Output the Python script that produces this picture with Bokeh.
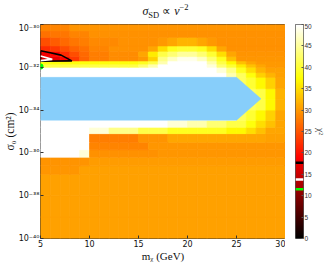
import numpy as np
from bokeh.plotting import figure
from bokeh.models import LinearColorMapper, FixedTicker, ColumnDataSource, Div
from bokeh.layouts import row, column
from bokeh.embed import file_html
from bokeh.resources import INLINE

# ---------------- data ----------------
mass_edges = [5, 6, 7, 8, 9, 10, 11, 12, 13, 14, 15, 16, 17, 18, 19, 20,
              21, 22, 23, 24, 25, 26, 27, 28, 29, 30]
logsigma_edges = [-40, -39, -38, -37, -36.6, -36.2, -35.85, -35.5, -35.1, -34.8,
                  -34.47, -34.0, -33.5, -33.0, -32.47, -32.25, -32.0, -31.85,
                  -31.7, -31.5, -31.25, -31.0, -30.6, -30.3, -30.0]

# chi^2 per cell, rows listed from top (-30) to bottom (-40), columns 5..30 GeV
chi2_rows_top_down = [
    [28.5, 28.5, 28.5, 29.6, 29.6, 29.6, 29.6, 29.6, 29.6, 29.6, 29.6, 29.6, 29.6, 29.6, 29.6, 29.6, 29.6, 29.6, 29.6, 29.6, 29.6, 29.6, 29.6, 29.6, 29.6],
    [27.0, 27.5, 27.5, 28.5, 28.5, 29.4, 29.4, 29.4, 29.4, 29.4, 29.4, 29.4, 29.4, 29.4, 29.4, 29.4, 29.4, 29.4, 29.4, 29.4, 29.4, 29.4, 29.4, 29.4, 29.4],
    [24.5, 25.5, 26.5, 27.5, 28.0, 28.8, 28.8, 28.8, 29.4, 29.4, 29.4, 29.4, 30.0, 31.0, 32.0, 32.0, 31.0, 30.0, 29.4, 29.4, 29.4, 29.4, 29.4, 29.4, 29.4],
    [22.0, 23.0, 24.5, 26.0, 27.0, 28.5, 28.5, 29.3, 29.3, 29.3, 29.3, 31.0, 35.0, 39.0, 40.0, 40.0, 39.0, 35.0, 31.0, 29.4, 29.4, 29.4, 29.4, 29.4, 29.4],
    [18.0, 19.0, 22.0, 24.5, 26.5, 28.0, 28.0, 29.0, 29.0, 29.0, 31.0, 36.0, 41.0, 43.0, 45.0, 45.0, 43.0, 40.0, 35.0, 31.0, 29.6, 29.6, 29.6, 29.6, 29.6],
    [16.0, 17.0, 19.0, 23.0, 26.0, 28.0, 28.0, 29.0, 29.0, 29.0, 30.0, 34.0, 44.0, 47.0, 49.0, 49.0, 47.0, 43.0, 39.0, 33.0, 29.8, 29.8, 29.8, 29.8, 29.8],
    [38.0, 38.0, 38.0, 38.0, 38.0, 38.0, 38.0, 38.0, 38.0, 38.0, 39.0, 41.0, 46.0, 50.0, 50.0, 50.0, 50.0, 46.0, 41.0, 37.0, 33.0, 31.0, 30.0, 30.0, 30.0],
    [41.0, 41.0, 41.0, 41.0, 41.0, 41.0, 41.0, 41.0, 41.0, 41.0, 43.0, 46.0, 50.0, 50.0, 50.0, 50.0, 50.0, 48.0, 43.0, 40.0, 36.0, 33.0, 31.0, 30.0, 30.0],
    [50.0, 50.0, 50.0, 50.0, 50.0, 50.0, 50.0, 50.0, 50.0, 50.0, 50.0, 50.0, 50.0, 50.0, 50.0, 50.0, 50.0, 50.0, 48.0, 44.0, 39.0, 35.0, 32.0, 30.5, 30.5],
    [50.0, 50.0, 50.0, 50.0, 50.0, 50.0, 50.0, 50.0, 50.0, 50.0, 50.0, 50.0, 50.0, 50.0, 50.0, 50.0, 50.0, 50.0, 50.0, 46.0, 42.0, 38.0, 34.0, 32.0, 30.5],
    [50.0, 50.0, 50.0, 50.0, 50.0, 50.0, 50.0, 50.0, 50.0, 50.0, 50.0, 50.0, 50.0, 50.0, 50.0, 50.0, 50.0, 50.0, 50.0, 50.0, 42.0, 40.0, 37.0, 34.0, 31.0],
    [50.0, 50.0, 50.0, 50.0, 50.0, 50.0, 50.0, 50.0, 50.0, 50.0, 50.0, 50.0, 50.0, 50.0, 50.0, 50.0, 50.0, 50.0, 50.0, 50.0, 42.0, 42.0, 41.0, 37.0, 32.0],
    [50.0, 50.0, 50.0, 50.0, 50.0, 50.0, 50.0, 50.0, 50.0, 50.0, 50.0, 50.0, 50.0, 50.0, 50.0, 50.0, 50.0, 50.0, 50.0, 50.0, 42.0, 42.0, 41.0, 37.0, 32.0],
    [50.0, 50.0, 50.0, 50.0, 50.0, 50.0, 50.0, 50.0, 50.0, 50.0, 50.0, 50.0, 50.0, 50.0, 50.0, 50.0, 50.0, 50.0, 50.0, 50.0, 42.0, 40.0, 37.0, 34.0, 31.0],
    [50.0, 50.0, 50.0, 50.0, 50.0, 50.0, 50.0, 50.0, 50.0, 50.0, 50.0, 50.0, 50.0, 48.0, 48.0, 46.0, 46.0, 43.0, 43.0, 41.0, 41.0, 38.0, 35.0, 33.0, 31.0],
    [50.0, 50.0, 50.0, 50.0, 50.0, 48.0, 48.0, 44.0, 44.0, 44.0, 41.0, 41.0, 41.0, 39.0, 39.0, 39.0, 39.0, 39.0, 39.0, 37.0, 37.0, 35.0, 33.0, 31.0, 31.0],
    [50.0, 50.0, 50.0, 50.0, 50.0, 28.0, 28.0, 28.0, 28.0, 28.0, 29.5, 29.5, 29.5, 31.0, 31.0, 31.0, 31.0, 31.0, 31.0, 31.0, 31.0, 31.0, 31.0, 30.5, 30.5],
    [50.0, 50.0, 50.0, 50.0, 50.0, 28.5, 28.5, 28.5, 28.5, 28.5, 28.5, 29.8, 29.8, 29.8, 29.8, 29.8, 29.8, 29.8, 29.8, 29.8, 29.8, 29.8, 29.8, 29.8, 29.8],
    [50.0, 50.0, 50.0, 50.0, 48.0, 29.3, 29.3, 29.3, 29.3, 29.3, 29.3, 29.3, 29.8, 29.8, 29.8, 29.8, 29.8, 29.8, 29.8, 29.8, 29.8, 29.8, 29.8, 29.8, 29.8],
    [29.6, 29.6, 29.6, 29.6, 29.6, 30.2, 30.2, 30.2, 30.2, 30.2, 30.2, 30.2, 30.2, 30.2, 30.2, 30.2, 30.2, 30.2, 30.2, 30.2, 30.2, 30.2, 30.2, 30.2, 30.2],
    [29.8, 29.8, 29.8, 29.8, 30.5, 30.5, 30.5, 30.5, 30.5, 30.5, 30.5, 30.5, 30.5, 30.5, 30.5, 30.5, 30.5, 30.5, 30.5, 30.5, 30.5, 30.5, 30.5, 30.5, 30.5],
    [30.5, 30.5, 30.5, 30.5, 30.5, 30.5, 30.5, 30.5, 30.5, 30.5, 30.5, 30.5, 30.5, 30.5, 30.5, 30.5, 30.5, 30.5, 30.5, 30.5, 30.5, 30.5, 30.5, 30.5, 30.5],
    [30.5, 30.5, 30.5, 30.5, 30.5, 30.5, 30.5, 30.5, 30.5, 30.5, 30.5, 30.5, 30.5, 30.5, 30.5, 30.5, 30.5, 30.5, 30.5, 30.5, 30.5, 30.5, 30.5, 30.5, 30.5],
    [30.5, 30.5, 30.5, 30.5, 30.5, 30.5, 30.5, 30.5, 30.5, 30.5, 30.5, 30.5, 30.5, 30.5, 30.5, 30.5, 30.5, 30.5, 30.5, 30.5, 30.5, 30.5, 30.5, 30.5, 30.5],
]

# excluded (light-blue) region
excl_mass = [5, 25, 27.5, 25, 5]
excl_logsigma = [-32.47, -32.47, -33.47, -34.47, -34.47]

# chi^2 contours
contour_black_mass = [5, 6.0, 7.1, 8.2, 5, 5]
contour_black_logsigma = [-31.23, -31.32, -31.43, -31.70, -31.72, -31.23]
contour_white_mass = [5, 6.2, 5]
contour_white_logsigma = [-31.47, -31.63, -31.69]

# best-fit point
best_mass = [5.0]
best_logsigma = [-31.96]

x_ticks = [5, 10, 15, 20, 25, 30]
y_ticks = [-40, -38, -36, -34, -32, -30]
y_tick_labels = ["10⁻⁴⁰", "10⁻³⁸", "10⁻³⁶", "10⁻³⁴", "10⁻³²", "10⁻³⁰"]
cbar_ticks = [0, 5, 10, 15, 20, 25, 30, 35, 40, 45, 50]
cbar_marks = [17.7, 13.8, 11.5]
cbar_mark_colors = ["#000000", "#ffffff", "#00ff00"]

title_html = ("<i>σ</i><span style='font-size:8.5px;position:relative;top:2.5px'>SD</span>"
              " ∝ <i>v</i><span style='font-size:8.5px;position:relative;top:-5px'>−2</span>")
x_label = "mᵪ (GeV)"
y_label = "σ₀ (cm²)"
cbar_label = "χ²"

# ---------------- colour map (hot) ----------------
t = np.linspace(0, 1, 256)
rr = np.clip(t / 0.375, 0, 1)
gg = np.clip((t - 0.375) / 0.375, 0, 1)
bb = np.clip((t - 0.75) / 0.25, 0, 1)
hot = ["#%02x%02x%02x" % (int(round(255 * a)), int(round(255 * b)), int(round(255 * c)))
       for a, b, c in zip(rr, gg, bb)]
mapper = LinearColorMapper(palette=hot, low=0, high=50, high_color="#ffffff")

# ---------------- cells ----------------
rows_bottom_up = chi2_rows_top_down[::-1]
L, R, B, T, V = [], [], [], [], []
for j in range(len(logsigma_edges) - 1):
    for i in range(len(mass_edges) - 1):
        L.append(mass_edges[i]); R.append(mass_edges[i + 1])
        B.append(logsigma_edges[j]); T.append(logsigma_edges[j + 1])
        V.append(rows_bottom_up[j][i])
cells = ColumnDataSource(dict(left=L, right=R, bottom=B, top=T, chi2=V))

serif = "Liberation Serif"
tick_font = "DejaVu Sans"

p = figure(width=285, height=241, x_range=(5, 30), y_range=(-40, -30),
           output_backend="svg", toolbar_location=None, sizing_mode="fixed",
           min_border_left=34, min_border_right=0, min_border_top=1, min_border_bottom=23)
p.grid.visible = False
p.outline_line_color = "#333333"
p.outline_line_width = 1

p.quad(left="left", right="right", bottom="bottom", top="top", source=cells,
       fill_color={"field": "chi2", "transform": mapper},
       line_color={"field": "chi2", "transform": mapper}, line_width=0.7)
p.patch(excl_mass, excl_logsigma, fill_color="#87cefa", line_color="#87cefa", line_width=0.5)
p.line(contour_black_mass, contour_black_logsigma, line_color="black", line_width=1.6)
p.line(contour_white_mass, contour_white_logsigma, line_color="white", line_width=1.6)
p.scatter(best_mass, best_logsigma, size=6, fill_color="#00ff00", line_color=None)

for ax in (p.xaxis[0], p.yaxis[0]):
    ax.major_tick_in = 3
    ax.major_tick_out = 0
    ax.minor_tick_line_color = None
    ax.axis_line_color = None
    ax.major_tick_line_color = "#333333"
    ax.major_label_text_font = tick_font
    ax.major_label_text_font_size = "8px"
    ax.major_label_text_color = "#111111"
    ax.major_label_standoff = 1
    ax.axis_label_text_font = serif
    ax.axis_label_text_font_size = "11px"
    ax.axis_label_text_font_style = "normal"
    ax.axis_label_text_color = "#111111"
    ax.axis_label_standoff = 0
p.yaxis[0].axis_label_text_font_size = "11.5px"
p.xaxis[0].ticker = FixedTicker(ticks=x_ticks)
p.yaxis[0].ticker = FixedTicker(ticks=y_ticks)
p.yaxis[0].major_label_overrides = {k: s for k, s in zip(y_ticks, y_tick_labels)}
p.xaxis[0].axis_label = x_label
p.yaxis[0].axis_label = y_label

# ---------------- colour bar ----------------
cb = figure(width=42, height=241, x_range=(0, 1), y_range=(0, 50),
            output_backend="svg", toolbar_location=None, x_axis_location=None,
            y_axis_location="right", sizing_mode="fixed",
            min_border_left=10, min_border_right=18, min_border_top=1, min_border_bottom=23)
cb.grid.visible = False
cb.outline_line_color = "#555555"
cb.image(image=[np.linspace(0, 50, 256).reshape(256, 1)], x=0, y=0, dw=1, dh=50,
         color_mapper=mapper)
cb.segment(x0=[0] * len(cbar_marks), x1=[1] * len(cbar_marks), y0=cbar_marks,
           y1=cbar_marks, line_color=cbar_mark_colors, line_width=2.5)
cy = cb.yaxis[0]
cy.ticker = FixedTicker(ticks=cbar_ticks)
cy.major_tick_in = 2
cy.major_tick_out = 0
cy.minor_tick_line_color = None
cy.axis_line_color = None
cy.major_tick_line_color = "#555555"
cy.major_label_text_font = "Liberation Sans"
cy.major_label_text_font_size = "6.5px"
cy.major_label_text_color = "#333333"
cy.major_label_standoff = 1
cy.axis_label = cbar_label
cy.axis_label_text_font = serif
cy.axis_label_text_font_size = "9.5px"
cy.axis_label_text_font_style = "normal"
cy.axis_label_standoff = 0

title = Div(text=title_html, width=321, height=13, sizing_mode="fixed",
            styles={"text-align": "center", "font-family": serif, "font-size": "12px",
                    "line-height": "13px", "color": "#111111", "overflow": "visible"})

layout = column(title, row(p, cb, spacing=0), spacing=0)
open("out.html", "w").write(file_html(layout, INLINE))
